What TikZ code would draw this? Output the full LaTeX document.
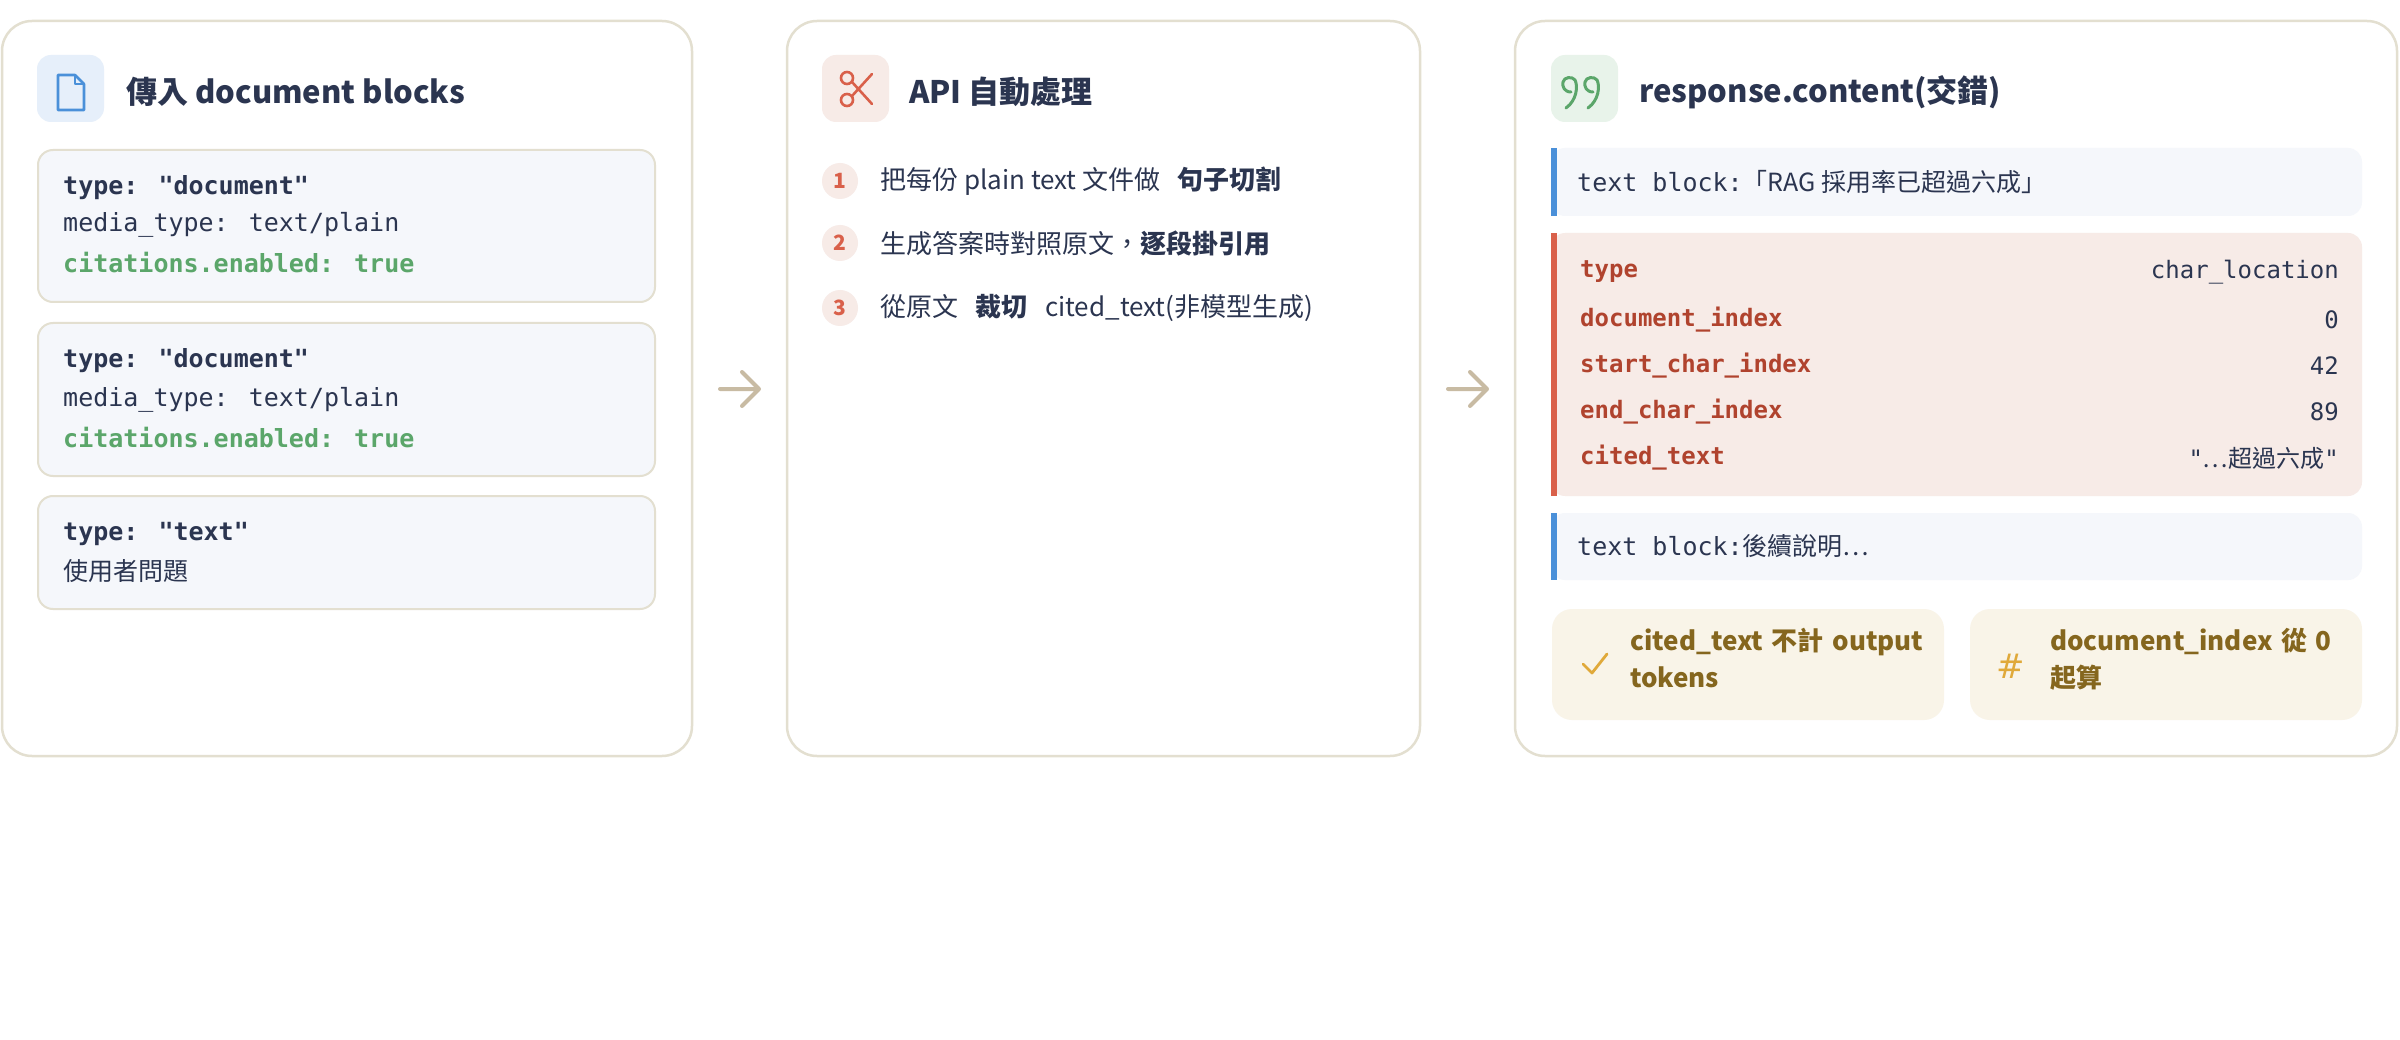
\documentclass[tikz,border=0pt]{standalone}
\usepackage{fontspec}
\setmainfont{Noto Sans CJK TC}
\newfontfamily\cjk{Noto Sans CJK TC}
\newfontfamily\mono{DejaVu Sans Mono}
\newfontfamily\dvs{DejaVu Sans}
\definecolor{ink}{HTML}{2B3550}
\definecolor{pborder}{HTML}{E3DFD0}
\definecolor{blockbg}{HTML}{F5F7FB}
\definecolor{green1}{HTML}{5BA66A}
\definecolor{red1}{HTML}{D9604A}
\definecolor{redkey}{HTML}{B0432E}
\definecolor{citebg}{HTML}{F7EBE7}
\definecolor{blue1}{HTML}{4A90D9}
\definecolor{notebg}{HTML}{F9F4E8}
\definecolor{notefg}{HTML}{85661E}
\definecolor{noteic}{HTML}{E0A93A}
\definecolor{arrowc}{HTML}{C8BBA3}
\begin{document}
\begin{tikzpicture}[x=1pt,y=-1pt,
 panel/.style={draw=pborder,line width=2.5pt,rounded corners=30pt,fill=white},
 blk/.style={draw=pborder,line width=2pt,rounded corners=15pt,fill=blockbg},
 title/.style={anchor=west,inner sep=0,text=ink,font=\fontsize{31}{36}\selectfont\bfseries},
 code/.style={anchor=west,inner sep=0,text=ink,font=\fontsize{25}{30}\selectfont\mono},
 codeb/.style={code,font=\fontsize{25}{30}\selectfont\mono\bfseries},
 steptext/.style={anchor=west,inner sep=0,text=ink,font=\fontsize{26}{30}\selectfont},
 num/.style={circle,fill=citebg,minimum size=36pt,inner sep=0,text=red1,font=\fontsize{21}{24}\selectfont\bfseries},
 key/.style={anchor=west,inner sep=0,text=redkey,font=\fontsize{24}{29}\selectfont\mono\bfseries},
 val/.style={anchor=east,inner sep=0,text=ink,font=\fontsize{24}{29}\selectfont\mono},
 note/.style={anchor=north west,inner sep=0,text=notefg,align=left,text width=300pt,font=\fontsize{26}{37}\selectfont\bfseries},
 flow/.style={draw=arrowc,line width=4pt,line cap=round,line join=round},
 qmark/.style={draw=green1,line width=3pt,line cap=round,line join=round}
]
\useasboundingbox (0,0) rectangle (2400,1040);
% panels
\draw[panel] (2,21) rectangle (692,756);
\draw[panel] (787,21) rectangle (1420,756);
\draw[panel] (1515,21) rectangle (2397,756);
% arrows
\coordinate (a1s) at (720,389); \coordinate (a1e) at (759,389);
\coordinate (a2s) at (1448,389); \coordinate (a2e) at (1487,389);
\draw[flow] (a1s) -- (a1e) (742,372) -- (a1e) -- (742,406);
\draw[flow] (a2s) -- (a2e) (1470,372) -- (a2e) -- (1470,406);

% ---- panel 1
\fill[fill=blue1!14,rounded corners=14pt] (37,55) rectangle (104,122);
\draw[blue1,line width=2.6pt,line join=round] (58,75) -- (75,75) -- (84,84) -- (84,110) -- (58,110) -- cycle;
\draw[blue1,line width=2.6pt,line join=round] (75,75) -- (75,84) -- (84,84);
\node[title] (t1) at (126,92) {傳入 document blocks};
\draw[blk] (38,150) rectangle (655,302);
\node[codeb] (b1a) at (63,188) {type: "document"};
\node[code] (b1b) at (63,225) {media\_type: text/plain};
\node[codeb,text=green1] (b1c) at (63,263) {citations.enabled: true};
\draw[blk] (38,323) rectangle (655,476);
\node[codeb] (b2a) at (63,361) {type: "document"};
\node[code] (b2b) at (63,400) {media\_type: text/plain};
\node[codeb,text=green1] (b2c) at (63,438) {citations.enabled: true};
\draw[blk] (38,496) rectangle (655,609);
\node[codeb] (b3a) at (63,534) {type: "text"};
\node[code,font=\fontsize{25}{30}\selectfont\cjk] (b3b) at (63,571) {使用者問題};

% ---- panel 2
\fill[fill=citebg,rounded corners=14pt] (822,55) rectangle (889,122);
\draw[red1,line width=2.6pt] (847,78) circle (6pt) (847,100) circle (6pt);
\draw[red1,line width=2.6pt,line cap=round] (852,82) -- (872,104) (852,96) -- (872,74);
\node[title] (t2) at (909,92) {API 自動處理};
\node[num] (n1) at (840,181) {1};
\node[num] (n2) at (840,243) {2};
\node[num] (n3) at (840,308) {3};
\node[steptext] (s1) at (880,181) {把每份 plain text 文件做\ \ \ \textbf{句子切割}};
\node[steptext] (s2) at (880,243) {生成答案時對照原文，\textbf{逐段掛引用}};
\node[steptext] (s3) at (880,308) {從原文\ \ \ \textbf{裁切}\ \ \ cited\_text(非模型生成)};

% ---- panel 3
\fill[fill=green1!14,rounded corners=14pt] (1551,55) rectangle (1618,122);
\draw[qmark] (1571,92) .. controls (1564,92) and (1562,86) .. (1563,82) .. controls (1564,77) and (1572,76) .. (1575,80) .. controls (1578,86) and (1577,100) .. (1566,108);
\draw[qmark] (1593,92) .. controls (1586,92) and (1584,86) .. (1585,82) .. controls (1586,77) and (1594,76) .. (1597,80) .. controls (1600,86) and (1599,100) .. (1588,108);
\node[title] (t3) at (1639,92) {response.content(交錯)};
% text block 1
\fill[blockbg,rounded corners=14pt] (1551,148) rectangle (2362,216);
\fill[blue1] (1551,148) rectangle (1557,216);
\node[code] (tb1) at (1577,182) {text block:{\cjk 「RAG 採用率已超過六成」}};
% citation
\fill[citebg,rounded corners=14pt] (1551,233) rectangle (2362,496);
\fill[red1] (1551,233) rectangle (1557,496);
\node[key] (k1) at (1580,272) {type};
\node[key] (k2) at (1580,320) {document\_index};
\node[key] (k3) at (1580,366) {start\_char\_index};
\node[key] (k4) at (1580,412) {end\_char\_index};
\node[key] (k5) at (1580,458) {cited\_text};
\node[val] (v1) at (2339,272) {char\_location};
\node[val] (v2) at (2339,320) {0};
\node[val] (v3) at (2339,366) {42};
\node[val] (v4) at (2339,412) {89};
\node[val] (v5) at (2339,458) {"{\cjk …超過六成}"};
% text block 2
\fill[blockbg,rounded corners=14pt] (1551,513) rectangle (2362,580);
\fill[blue1] (1551,513) rectangle (1557,580);
\node[code] (tb2) at (1577,546) {text block:{\cjk 後續說明…}};
% notes
\fill[notebg,rounded corners=20pt] (1552,609) rectangle (1944,720);
\fill[notebg,rounded corners=20pt] (1970,609) rectangle (2362,720);
\draw[noteic,line width=2.8pt,line cap=round,line join=round] (1583,664) -- (1592,673) -- (1607,654);
\node[note] (nt1) at (1630,628) {cited\_text 不計 output tokens};
\node[inner sep=0,text=noteic,font=\fontsize{34}{34}\selectfont\dvs] (hash) at (2011,666) {\#};
\node[note] (nt2) at (2050,628) {document\_index 從 0 起算};
\end{tikzpicture}
\end{document}
